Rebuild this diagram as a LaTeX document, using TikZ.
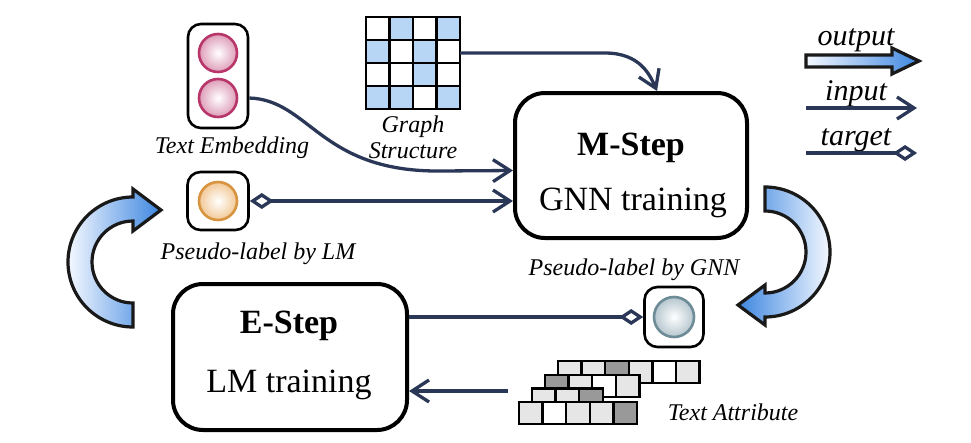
\documentclass[tikz,border=0pt]{standalone}
\usepackage{fontspec}
\setmainfont{Liberation Serif}
\usetikzlibrary{arrows.meta,calc}
\definecolor{navy}{HTML}{2A3756}
\definecolor{pinkborder}{HTML}{B8366A}
\definecolor{pinkfill}{HTML}{DE9DB8}
\definecolor{orangeborder}{HTML}{D89440}
\definecolor{orangefill}{HTML}{F2C896}
\definecolor{grayborder}{HTML}{6E8C98}
\definecolor{grayfill}{HTML}{B5C6CE}
\definecolor{gblue}{HTML}{B7D5F4}
\definecolor{arrblue}{HTML}{3D86E0}
\definecolor{arrlight}{HTML}{F4F8FF}
\definecolor{lgray}{HTML}{E6E6E6}
\definecolor{dgray}{HTML}{999999}
\begin{document}
\begin{tikzpicture}[x=1pt,y=-1pt,
  conn/.style={draw=navy, line width=3.3pt},
  inarrow/.style={conn, -{Straight Barb[length=17pt,width=22pt]}},
  tgtstart/.style={conn, {Diamond[fill=white,length=24pt,width=16pt]}-{Straight Barb[length=17pt,width=22pt]}},
  tgtend/.style={conn, -{Diamond[fill=white,length=24pt,width=16pt]}},
  stepbox/.style={draw=black, line width=4pt, rounded corners=30pt, minimum width=232pt, minimum height=145pt, inner sep=0pt, fill=white},
  smallbox/.style={draw=black, line width=2.6pt, rounded corners=13pt, inner sep=0pt, fill=white},
  ball/.style={circle, line width=2.6pt, minimum size=38pt, inner sep=0pt, inner color=white},
  lab/.style={font=\fontsize{24}{26}\selectfont\itshape, inner sep=0pt, anchor=base},
  leg/.style={font=\fontsize{30}{32}\selectfont\itshape, inner sep=0pt, anchor=base},
  boxtitle/.style={font=\fontsize{34}{36}\selectfont\bfseries, inner sep=0pt, anchor=base},
  boxsub/.style={font=\fontsize{34}{36}\selectfont, inner sep=0pt, anchor=base},
  bigarrow/.style={draw=black!90, line width=3.2pt, line join=miter},
  cell/.style={draw=black, line width=2.3pt}
]
\useasboundingbox (0,0) rectangle (971,442);

% ---- big cycle arrows
\draw[bigarrow, left color=arrlight, right color=arrblue]
  (133,327) arc[start angle=90, end angle=270, radius=65] -- (133,189) -- (161,210)
  -- (133,231) -- (133,221) arc[start angle=270, end angle=90, radius=41] -- cycle;
\draw[bigarrow, left color=arrblue, right color=arrlight]
  (765,187) arc[start angle=270, end angle=450, radius=65] -- (765,325) -- (738,305)
  -- (765,285) -- (765,293) arc[start angle=450, end angle=270, radius=41] -- cycle;

% ---- main boxes
\node[stepbox] (mstep) at (631,165.5) {};
\node[boxtitle] (mtitle) at (631,155) {M-Step};
\node[boxsub] (msub) at (633,210) {GNN training};
\node[stepbox, minimum width=234pt, minimum height=146pt] (estep) at (290,357) {};
\node[boxtitle] (etitle) at (289,333) {E-Step};
\node[boxsub] (esub) at (289,392) {LM training};

% ---- text embedding
\node[smallbox, minimum width=60pt, minimum height=104pt] (te) at (218,76) {};
\node[ball, draw=pinkborder, outer color=pinkfill] (te1) at (218,53) {};
\node[ball, draw=pinkborder, outer color=pinkfill] (te2) at (218,98) {};
\node[lab] (lte) at (232,153) {Text Embedding};

% ---- pseudo label by LM
\node[smallbox, minimum width=61pt, minimum height=58pt] (lmpl) at (218,201) {};
\node[ball, draw=orangeborder, outer color=orangefill] (lmc) at (218,201) {};
\node[lab] (llm) at (258,259) {Pseudo-label by LM};

% ---- graph structure
\node[minimum width=94pt, minimum height=92pt, inner sep=0pt] (grid) at (413,63) {};
\foreach \r/\row in {0/{0,1,0,1}, 1/{1,0,1,0}, 2/{0,0,1,0}, 3/{1,1,0,1}} {
  \foreach \v [count=\c from 0] in \row {
    \ifnum\v=1 \def\cc{gblue}\else\def\cc{white}\fi
    \filldraw[cell, line width=2.6pt, fill=\cc] (366+23.5*\c,17+23*\r) rectangle ++(23.5,23);
  }
}
\node[lab, align=center] (lgs1) at (413,132) {Graph};
\node[lab, align=center] (lgs2) at (413,158) {Structure};

% ---- pseudo label by GNN
\node[smallbox, minimum width=59pt, minimum height=60pt] (gnnpl) at (674,317) {};
\node[ball, draw=grayborder, outer color=grayfill, minimum size=40pt] (gnnc) at (674,317) {};
\node[lab] (lgnn) at (634,275) {Pseudo-label by GNN};

% ---- text attribute
\foreach \r/\row in {0/{L,L,D,L,W,L}, 1/{D,L,W,L}, 2/{L,L,D}, 3/{L,W,L,L,D}} {
  \foreach \v [count=\c from 0] in \row {
    \if\v L\def\cc{lgray}\fi
    \if\v D\def\cc{dgray}\fi
    \if\v W\def\cc{white}\fi
    \filldraw[cell, fill=\cc] (558-13*\r+23.6*\c,361+13.7*\r) rectangle ++(23.6,22);
  }
}
\node[lab] (lta) at (733,420) {Text Attribute};
\coordinate (tastart) at (508,391);

% ---- connectors
\draw[inarrow] ([yshift=10pt]grid.east) -- (605,53) .. controls (640,53) and (650,75) .. ([xshift=26pt]mstep.north);
\draw[inarrow] (te.east |- te2) .. controls (310,100) and (320,172) .. (440,171) -- ([yshift=-5pt]mstep.west);
\draw[tgtstart] (lmpl.east) -- (mstep.west |- lmpl);
\draw[tgtend] (estep.east |- gnnpl) -- (gnnpl.west);
\draw[inarrow] (tastart) -- (estep.east |- tastart);

% ---- legend
\node[leg] (lout) at (856,45) {output};
\draw[bigarrow, left color=arrlight, right color=arrblue]
  (806,55) -- (892,55) -- (892,48) -- (919,61) -- (892,74) -- (892,67) -- (806,67) -- cycle;
\node[leg] (lin) at (856,100) {input};
\coordinate (ins) at (806,108);
\coordinate (ine) at (917,108);
\draw[inarrow] (ins) -- (ine);
\node[leg] (ltg) at (856,145) {target};
\coordinate (tgs) at (806,153);
\coordinate (tge) at (917,153);
\draw[tgtend] (tgs) -- (tge);
\end{tikzpicture}
\end{document}
